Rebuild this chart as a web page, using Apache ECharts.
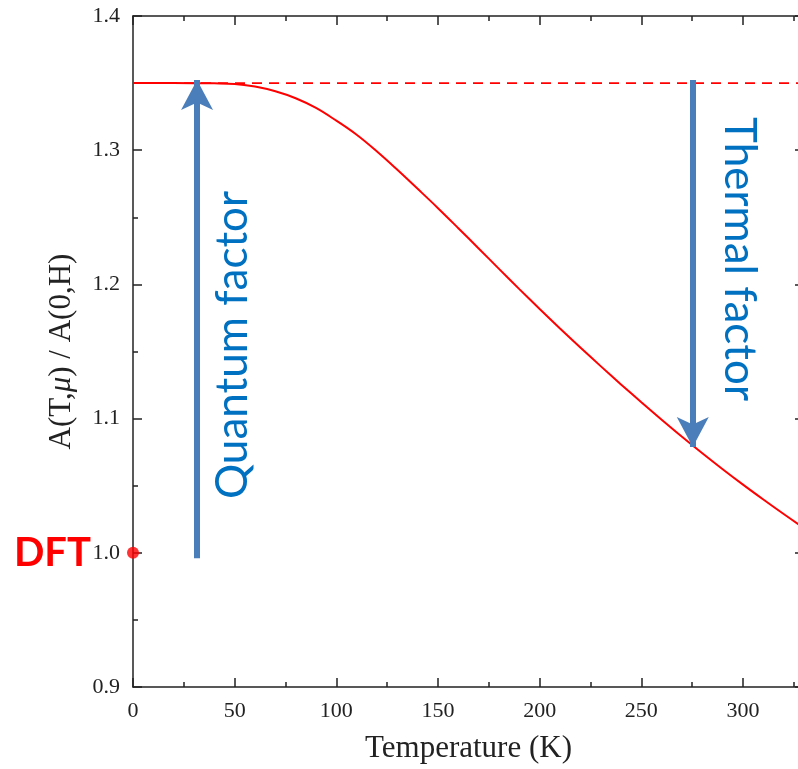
<!DOCTYPE html>
<html>
<head>
<meta charset="utf-8">
<script src="https://cdn.jsdelivr.net/npm/echarts@6/dist/echarts.min.js"></script>
<style>
html,body{margin:0;padding:0;background:#fff;}
#chart{width:798px;height:769px;}
</style>
</head>
<body>
<div id="chart"></div>
<script>
// Temperature (K)
const temps = [0,20,40,50,60,70,80,90,100,110,120,130,140,150,160,170,180,190,200,210,220,230,240,250,260,270,280,290,300,310,320,330];
// A(T,mu)/A(0,H)
const ratio = [1.3500,1.3500,1.3498,1.3494,1.3474,1.3439,1.3387,1.3315,1.3220,1.3115,1.2990,1.2854,1.2712,1.2568,1.2419,1.2268,1.2116,1.1965,1.1817,1.1672,1.1530,1.1391,1.1255,1.1122,1.0992,1.0865,1.0742,1.0623,1.0508,1.0397,1.0289,1.0184];
// Quantum limit (T=0 value) dashed reference
const quantumLevel = 1.35;
const dashT = [0, 330];
// DFT point
const dftPoint = [0, 1.0];
// Arrows: [T, from, to]
const quantumArrow = [31.5, 0.996, 1.3523];
const thermalArrow = [275.3, 1.3523, 1.0788];
const xTicks = [0,50,100,150,200,250,300];
const yTicks = [0.9,1.0,1.1,1.2,1.3,1.4];

const axisColor = '#222';
const serif = '"Liberation Serif", "Times New Roman", serif';
const blueArrow = '#4a7ebb';
const blueText = '#0070c0';

const chart = echarts.init(document.getElementById('chart'));

function xAx(pos, showLabel) {
  return {
    type: 'value', position: pos, min: 0, max: 330, interval: 50,
    name: showLabel ? 'Temperature (K)' : '',
    nameLocation: 'middle', nameGap: 46,
    nameTextStyle: {fontFamily: serif, fontSize: 31, color: axisColor},
    axisLine: {show: true, onZero: false, lineStyle: {color: axisColor, width: 1.5}},
    axisTick: {show: true, inside: true, length: 9, lineStyle: {color: axisColor, width: 1.5}},
    minorTick: {show: true, splitNumber: 2, length: 5, lineStyle: {color: axisColor, width: 1.5}},
    splitLine: {show: false},
    axisLabel: {show: showLabel, inside: false, margin: 13, showMaxLabel: false,
      fontFamily: serif, fontSize: 22, color: axisColor,
      formatter: v => xTicks.indexOf(v) >= 0 ? String(v) : ''}
  };
}
function yAx(pos, showLabel) {
  return {
    type: 'value', position: pos, min: 0.9, max: 1.4, interval: 0.1,
    name: showLabel ? 'A(T,{i|μ}) / A(0,H)' : '',
    nameLocation: 'middle', nameGap: 56, nameRotate: 90,
    nameTextStyle: {fontFamily: serif, fontSize: 31, color: axisColor,
      rich: {i: {fontFamily: serif, fontSize: 31, fontStyle: 'italic', color: axisColor}}},
    axisLine: {show: true, onZero: false, lineStyle: {color: axisColor, width: 1.5}},
    axisTick: {show: true, inside: true, length: 9, lineStyle: {color: axisColor, width: 1.5}},
    minorTick: {show: true, splitNumber: 2, length: 5, lineStyle: {color: axisColor, width: 1.5}},
    splitLine: {show: false},
    axisLabel: {show: showLabel, margin: 13, fontFamily: serif, fontSize: 22, color: axisColor,
      formatter: v => v.toFixed(1)}
  };
}

const option = {
  animation: false,
  backgroundColor: '#fff',
  grid: {left: 133, top: 16, right: -6, bottom: 82, containLabel: false, outerBoundsMode: 'none'},
  xAxis: [xAx('bottom', true), xAx('top', false)],
  yAxis: [yAx('left', true), yAx('right', false)],
  series: [
    {
      type: 'line', name: 'limit', xAxisIndex: 0, yAxisIndex: 0,
      data: dashT.map(t => [t, quantumLevel]),
      showSymbol: false, symbol: 'none',
      lineStyle: {color: '#ff0000', width: 1.6, type: [10, 7]}
    },
    {
      type: 'line', name: 'A', xAxisIndex: 0, yAxisIndex: 0,
      data: temps.map((t, i) => [t, ratio[i]]),
      smooth: 0.4, showSymbol: false, symbol: 'none',
      lineStyle: {color: '#ff0000', width: 2},
      markLine: {
        silent: true, animation: false,
        symbol: ['none', 'arrow'], symbolSize: [24, 30],
        label: {show: false},
        lineStyle: {color: blueArrow, width: 6, type: 'solid'},
        data: [
          [{coord: [quantumArrow[0], quantumArrow[1]]}, {coord: [quantumArrow[0], quantumArrow[2]]}],
          [{coord: [thermalArrow[0], thermalArrow[1]]}, {coord: [thermalArrow[0], thermalArrow[2]]}]
        ]
      }
    },
    {
      type: 'scatter', name: 'DFT', data: [dftPoint], symbolSize: 12,
      clip: false, itemStyle: {color: '#ff0000'}, z: 5
    }
  ],
  graphic: [
    {type: 'text', x: 91, y: 553, z: 10, style: {text: 'DFT', fontFamily: 'Lato, "Noto Sans", sans-serif', fontWeight: 'bold', fontSize: 40, fill: '#ff0000', align: 'right', verticalAlign: 'middle'}},
    {type: 'text', x: 233, y: 345, rotation: Math.PI / 2, z: 10, style: {text: 'Quantum factor', fontFamily: 'Lato, "Noto Sans", sans-serif', fontSize: 44, fill: blueText, align: 'center', verticalAlign: 'middle'}},
    {type: 'text', x: 739, y: 259, rotation: -Math.PI / 2, z: 10, style: {text: 'Thermal factor', fontFamily: 'Lato, "Noto Sans", sans-serif', fontSize: 44, fill: blueText, align: 'center', verticalAlign: 'middle'}}
  ]
};
chart.setOption(option);
</script>
</body>
</html>
